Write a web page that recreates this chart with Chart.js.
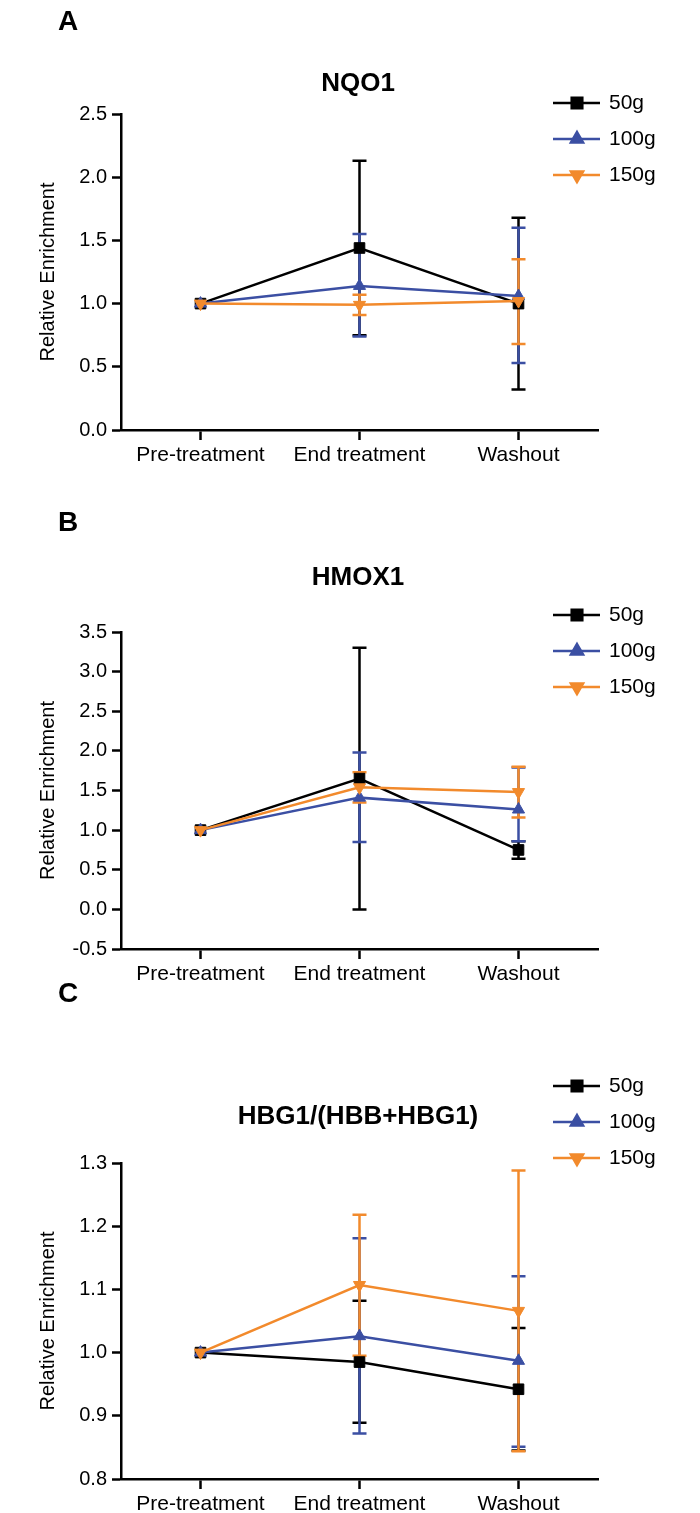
<!DOCTYPE html>
<html>
<head>
<meta charset="utf-8">
<script src="https://cdn.jsdelivr.net/npm/chart.js@4.4.1/dist/chart.umd.min.js"></script>
<style>
  body { margin: 0; background: #fff; width: 700px; height: 1513px; position: relative; overflow: hidden;
         font-family: "Liberation Sans", Arial, sans-serif; color: #000; }
  .panel { position: absolute; left: 0; width: 700px; }
  .letter { position: absolute; left: 58px; font-weight: bold; font-size: 28px; line-height: 28px; z-index: 2; }
  .title { position: absolute; left: 0; width: 716px; text-align: center; font-weight: bold;
           font-size: 26px; line-height: 26px; z-index: 2; }
</style>
</head>
<body>
<div class="letter" style="top:7px">A</div>
<div class="title" style="top:69px">NQO1</div>
<div class="panel" style="top:0;height:470px"><canvas id="chartA" width="700" height="470"></canvas></div>

<div class="letter" style="top:508px">B</div>
<div class="title" style="top:563px">HMOX1</div>
<div class="panel" style="top:470px;height:530px"><canvas id="chartB" width="700" height="530"></canvas></div>

<div class="letter" style="top:979px">C</div>
<div class="title" style="top:1102px">HBG1/(HBB+HBG1)</div>
<div class="panel" style="top:1000px;height:513px"><canvas id="chartC" width="700" height="513"></canvas></div>

<script>
const categories = ['Pre-treatment', 'End treatment', 'Washout'];
const groups = ['50g', '100g', '150g'];

// NQO1 (mean, lower and upper end of error bar), one row per group
const nqo1Ticks = [0, 0.5, 1.0, 1.5, 2.0, 2.5];
const nqo1Mean = [[1.00, 1.44, 1.00], [1.00, 1.14, 1.06], [1.00, 0.99, 1.02]];
const nqo1Low  = [[null, 0.75, 0.32], [null, 0.74, 0.53], [null, 0.91, 0.68]];
const nqo1High = [[null, 2.13, 1.68], [null, 1.55, 1.60], [null, 1.07, 1.35]];

// HMOX1
const hmox1Ticks = [-0.5, 0, 0.5, 1.0, 1.5, 2.0, 2.5, 3.0, 3.5];
const hmox1Mean = [[1.00, 1.65, 0.75], [1.00, 1.41, 1.26], [1.00, 1.54, 1.48]];
const hmox1Low  = [[null, 0.00, 0.64], [null, 0.85, 0.86], [null, 1.35, 1.16]];
const hmox1High = [[null, 3.30, 0.86], [null, 1.98, 1.79], [null, 1.73, 1.80]];

// HBG1/(HBB+HBG1)
const hbgTicks = [0.8, 0.9, 1.0, 1.1, 1.2, 1.3];
const hbgMean = [[1.00, 0.985, 0.942], [1.00, 1.026, 0.987], [1.00, 1.107, 1.066]];
const hbgLow  = [[null, 0.889, 0.845], [null, 0.872, 0.851], [null, 0.995, 0.844]];
const hbgHigh = [[null, 1.082, 1.039], [null, 1.181, 1.121], [null, 1.218, 1.288]];

const colors = ['#000000', '#3b4fa3', '#f28a2c'];
const markers = ['rect', 'triangle', 'triangle'];
const rotations = [0, 0, 180];
const radii = [7.5, 7, 7];

Chart.defaults.font.family = '"Liberation Sans", Arial, sans-serif';
Chart.defaults.color = '#000';

// vertical error bars with caps, drawn under the lines
const errorBars = {
    id: 'errorBars',
    beforeDatasetsDraw(chart) {
        const ctx = chart.ctx;
        const xs = chart.scales.x, ys = chart.scales.y;
        chart.data.datasets.forEach(ds => {
            ctx.save();
            ctx.strokeStyle = ds.borderColor;
            ctx.lineWidth = 2.5;
            ds.data.forEach((v, i) => {
                let lo = ds.errLow[i], hi = ds.errHigh[i];
                if (lo == null || hi == null) return;
                let px = xs.getPixelForValue(i);
                let y1 = ys.getPixelForValue(lo), y2 = ys.getPixelForValue(hi);
                ctx.beginPath();
                ctx.moveTo(px, y1); ctx.lineTo(px, y2);
                ctx.moveTo(px - 7, y1); ctx.lineTo(px + 7, y1);
                ctx.moveTo(px - 7, y2); ctx.lineTo(px + 7, y2);
                ctx.stroke();
            });
            ctx.restore();
        });
    }
};

// legend in the top right, sample line + marker + label
const sideLegend = {
    id: 'sideLegend',
    afterDraw(chart, args, opts) {
        const ctx = chart.ctx;
        chart.data.datasets.forEach((ds, i) => {
            let y = opts.top + i * 36;
            ctx.save();
            ctx.strokeStyle = ds.borderColor;
            ctx.fillStyle = ds.borderColor;
            ctx.lineWidth = 2.5;
            ctx.beginPath();
            ctx.moveTo(553, y);
            ctx.lineTo(600, y);
            ctx.stroke();
            Chart.helpers.drawPoint(ctx, {
                pointStyle: ds.pointStyle, rotation: ds.rotation,
                radius: ds.pointRadius, borderWidth: 1
            }, 577, y);
            ctx.fillStyle = '#000';
            ctx.font = '21px "Liberation Sans", Arial, sans-serif';
            ctx.textBaseline = 'middle';
            ctx.textAlign = 'left';
            ctx.fillText(ds.label, 609, y);
            ctx.restore();
        });
    }
};

function makeChart(id, means, lows, highs, ticks, decimals, padTop, xHeight, legendTop) {
    let datasets = groups.map((g, k) => ({
        label: g,
        data: means[k],
        errLow: lows[k],
        errHigh: highs[k],
        borderColor: colors[k],
        backgroundColor: colors[k],
        borderWidth: 2.5,
        pointStyle: markers[k],
        rotation: rotations[k],
        pointRadius: radii[k],
        pointBorderWidth: 1,
        tension: 0,
        order: 2 - k
    }));

    return new Chart(document.getElementById(id), {
        type: 'line',
        data: { labels: categories, datasets: datasets },
        options: {
            responsive: false,
            animation: false,
            events: [],
            layout: { padding: { top: padTop, right: 102, left: 0, bottom: 0 } },
            plugins: {
                legend: { display: false },
                tooltip: { enabled: false },
                sideLegend: { top: legendTop }
            },
            scales: {
                x: {
                    type: 'category',
                    offset: true,
                    afterFit: s => { s.height = xHeight; },
                    border: { display: true, color: '#000', width: 2.5 },
                    grid: { display: true, drawOnChartArea: false, offset: false,
                            tickLength: 10, tickWidth: 2.5, tickColor: '#000' },
                    ticks: { color: '#000', padding: 3, font: { size: 21 },
                             maxRotation: 0, autoSkip: false }
                },
                y: {
                    min: ticks[0],
                    max: ticks[ticks.length - 1],
                    afterBuildTicks: s => { s.ticks = ticks.map(v => ({ value: v })); },
                    afterFit: s => { s.width = 121; },
                    border: { display: true, color: '#000', width: 2.5 },
                    grid: { display: true, drawOnChartArea: false,
                            tickLength: 9, tickWidth: 2.5, tickColor: '#000' },
                    ticks: { color: '#000', padding: 5, font: { size: 20 },
                             callback: v => Number(v).toFixed(decimals) },
                    title: { display: true, text: 'Relative Enrichment', color: '#000',
                             font: { size: 20 }, padding: { top: 36, bottom: 0 } }
                }
            }
        },
        plugins: [errorBars, sideLegend]
    });
}

makeChart('chartA', nqo1Mean, nqo1Low, nqo1High, nqo1Ticks, 1, 114, 40, 103);
makeChart('chartB', hmox1Mean, hmox1Low, hmox1High, hmox1Ticks, 1, 162, 51, 145);
makeChart('chartC', hbgMean, hbgLow, hbgHigh, hbgTicks, 1, 163, 34, 86);
</script>
</body>
</html>
